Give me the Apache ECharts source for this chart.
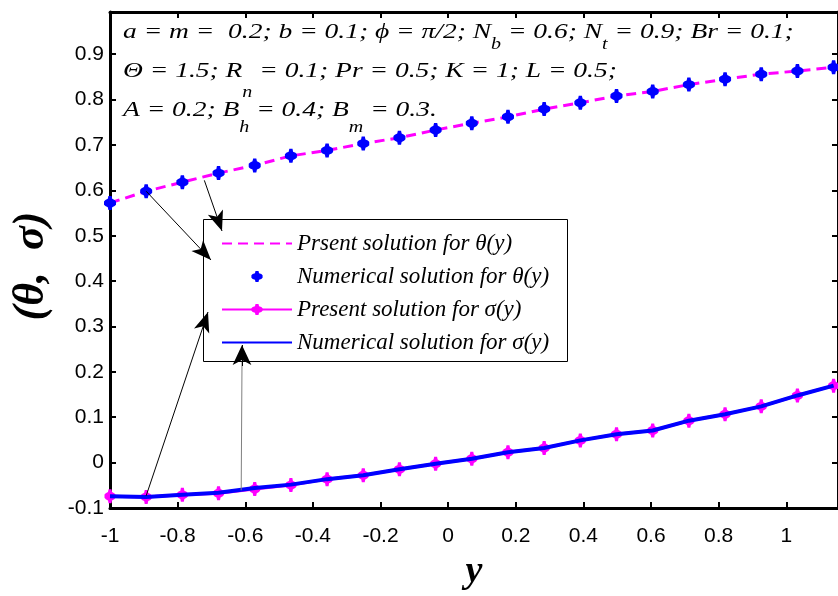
<!DOCTYPE html>
<html>
<head>
<meta charset="utf-8">
<script src="https://cdn.jsdelivr.net/npm/echarts@6/dist/echarts.min.js"></script>
<style>
html,body{margin:0;padding:0;background:#fff;}
#chart{width:838px;height:596px;}
</style>
</head>
<body>
<div id="chart"></div>
<script>
// ---- data ----
var xValues = [-1, -0.893, -0.786, -0.679, -0.572, -0.465, -0.358, -0.251, -0.144, -0.037, 0.07, 0.177, 0.284, 0.391, 0.498, 0.605, 0.712, 0.819, 0.926, 1.033, 1.14];
var thetaPresent = [0.572, 0.598, 0.618, 0.638, 0.655, 0.676, 0.688, 0.703, 0.716, 0.733, 0.748, 0.762, 0.779, 0.793, 0.808, 0.818, 0.833, 0.845, 0.856, 0.863, 0.871];
var thetaNumerical = [0.572, 0.598, 0.618, 0.638, 0.655, 0.676, 0.688, 0.703, 0.716, 0.733, 0.748, 0.762, 0.779, 0.793, 0.808, 0.818, 0.833, 0.845, 0.856, 0.863, 0.871];
var sigmaPresent = [-0.074, -0.0755, -0.071, -0.0675, -0.058, -0.0495, -0.0364, -0.0278, -0.0148, -0.0024, 0.0085, 0.023, 0.0323, 0.049, 0.0627, 0.0707, 0.0924, 0.1067, 0.124, 0.148, 0.1696];
var sigmaNumerical = [-0.074, -0.0755, -0.071, -0.0665, -0.056, -0.0485, -0.0364, -0.0278, -0.0148, -0.0024, 0.0085, 0.023, 0.0323, 0.049, 0.0627, 0.0707, 0.0924, 0.1067, 0.124, 0.148, 0.1696];
var seriesNames = ['Prsent solution for \u03B8(y)', 'Numerical solution for \u03B8(y)', 'Present solution for \u03C3(y)', 'Numerical solution for \u03C3(y)'];
var xTicks = {min: -1, max: 1.153, interval: 0.2};
var yTicks = {min: -0.1, max: 0.993, interval: 0.1};

function pairs(xs, ys) { return xs.map(function (x, i) { return [x, ys[i]]; }); }

var markerPath = 'path://M-1.6,-7 L1.6,-7 L2.2,-4.2 L4.6,-3 L6,-1.6 L6,1.6 L4.6,3 L2.2,4.2 L1.6,7 L-1.6,7 L-2.2,4.2 L-4.6,3 L-6,1.6 L-6,-1.6 L-4.6,-3 L-2.2,-4.2 Z';
var serif = '"Liberation Serif", "Times New Roman", serif';
var sans = '"Liberation Sans", Arial, sans-serif';

var axisCommon = {
  axisLine: {show: true, onZero: false, lineStyle: {color: '#000', width: 3}},
  axisTick: {show: true, inside: true, length: 6, lineStyle: {color: '#000', width: 2}},
  splitLine: {show: false}
};

var arrowLine = {color: '#000', width: 1, type: 'solid'};
var annoFont = {fontFamily: serif, fontStyle: 'italic', fontSize: 22, fill: '#000'};
function subStyle(pad) { return {fontFamily: serif, fontStyle: 'italic', fontSize: 16, padding: [pad, 0, 0, 0]}; }

var option = {
  animation: false,
  backgroundColor: '#fff',
  grid: {left: 110, top: 12, right: -4, bottom: 80, containLabel: false},
  xAxis: [
    Object.assign({type: 'value', position: 'bottom', min: xTicks.min, max: xTicks.max, interval: xTicks.interval,
      axisLabel: {show: true, color: '#000', fontFamily: sans, fontSize: 21, margin: 18, showMaxLabel: false},
      name: 'y', nameLocation: 'middle', nameGap: 45,
      nameTextStyle: {fontFamily: serif, fontStyle: 'italic', fontWeight: 'bold', fontSize: 38, color: '#000'}}, axisCommon),
    Object.assign({type: 'value', position: 'top', min: xTicks.min, max: xTicks.max, interval: xTicks.interval,
      axisLabel: {show: false}}, axisCommon)
  ],
  yAxis: [
    Object.assign({type: 'value', position: 'left', min: yTicks.min, max: yTicks.max, interval: yTicks.interval,
      axisLabel: {show: true, color: '#000', fontFamily: sans, fontSize: 21, margin: 6, showMaxLabel: false},
      name: '(\u03B8,  \u03C3)', nameLocation: 'middle', nameGap: 56, nameRotate: 90,
      nameTextStyle: {fontFamily: serif, fontStyle: 'italic', fontWeight: 'bold', fontSize: 44, color: '#000', padding: [0, 12, 0, 0]}}, axisCommon),
    Object.assign({type: 'value', position: 'right', min: yTicks.min, max: yTicks.max, interval: yTicks.interval,
      axisLabel: {show: false}}, axisCommon)
  ],
  legend: {
    show: true, orient: 'vertical', left: 216, top: 227,
    itemWidth: 70, itemHeight: 14, itemGap: 10,
    data: [
      {name: seriesNames[0], itemStyle: {opacity: 0}},
      {name: seriesNames[1]},
      {name: seriesNames[2]},
      {name: seriesNames[3], itemStyle: {opacity: 0}}
    ],
    textStyle: {fontFamily: serif, fontStyle: 'italic', fontSize: 23, color: '#000', lineHeight: 23},
    selectedMode: false
  },
  graphic: [
    {type: 'rect', z: 1, shape: {x: 203.5, y: 219.5, width: 364, height: 142},
      style: {fill: '#fff', stroke: '#000', lineWidth: 1}},
    {type: 'text', z: 10, x: 123, y: 32, scaleX: 1.25, style: Object.assign({x: 0, y: 0, textVerticalAlign: 'middle', textAlign: 'left',
      text: 'a = m =  0.2; b = 0.1; \u03D5 = \u03C0/2; N{s1|b} = 0.6; N{s1|t} = 0.9; Br = 0.1;',
      rich: {s1: subStyle(26)}}, annoFont)},
    {type: 'text', z: 10, x: 123, y: 71, scaleX: 1.25, style: Object.assign({x: 0, y: 0, textVerticalAlign: 'middle', textAlign: 'left',
      text: '\u0398 = 1.5; R{s2|n} = 0.1; Pr = 0.5; K = 1; L = 0.5;',
      rich: {s2: subStyle(44)}}, annoFont)},
    {type: 'text', z: 10, x: 123, y: 110, scaleX: 1.25, style: Object.assign({x: 0, y: 0, textVerticalAlign: 'middle', textAlign: 'left',
      text: 'A = 0.2; B{s3|h} = 0.4; B{s3|m} = 0.3.',
      rich: {s3: subStyle(36)}}, annoFont)}
  ],
  series: [
    {
      name: seriesNames[0], type: 'line', xAxisIndex: 0, yAxisIndex: 0, z: 3,
      data: pairs(xValues, thetaPresent),
      symbol: 'none', lineStyle: {color: '#ff00ff', width: 3, type: [10, 6]}, itemStyle: {color: '#ff00ff'},
      markLine: {
        silent: true, symbol: ['none', 'arrow'], label: {show: false}, lineStyle: arrowLine, z: 6,
        data: [
          [{coord: [-0.893, 0.598], symbol: 'none'}, {x: 211, y: 260, symbol: 'arrow', symbolSize: [12, 20]}],
          [{coord: [-0.721, 0.622], symbol: 'none'}, {x: 222, y: 231, symbol: 'arrow', symbolSize: [12, 20]}]
        ]
      }
    },
    {
      name: seriesNames[1], type: 'line', xAxisIndex: 0, yAxisIndex: 0, z: 4,
      data: pairs(xValues, thetaNumerical),
      symbol: markerPath, symbolSize: [12, 14], showAllSymbol: true,
      lineStyle: {width: 0, color: '#0000ff', opacity: 0}, itemStyle: {color: '#0000ff'}
    },
    {
      name: seriesNames[2], type: 'line', xAxisIndex: 0, yAxisIndex: 0, z: 3,
      data: pairs(xValues, sigmaPresent),
      symbol: markerPath, symbolSize: [11, 14], showAllSymbol: true,
      lineStyle: {color: '#ff00ff', width: 3}, itemStyle: {color: '#ff00ff'},
      markLine: {
        silent: true, symbol: ['none', 'arrow'], label: {show: false}, lineStyle: arrowLine, z: 6,
        data: [
          [{coord: [-0.893, -0.073], symbol: 'none'}, {x: 208, y: 312, symbol: 'arrow', symbolSize: [12, 20]}],
          [{coord: [-0.612, -0.061], symbol: 'none', lineStyle: {color: '#808080'}}, {x: 242, y: 362, symbol: 'none', lineStyle: {color: '#808080'}}],
          [{x: 242, y: 366, symbol: 'none'}, {x: 242, y: 345, symbol: 'arrow', symbolSize: [14, 20]}]
        ]
      }
    },
    {
      name: seriesNames[3], type: 'line', xAxisIndex: 0, yAxisIndex: 0, z: 4,
      data: pairs(xValues, sigmaNumerical),
      symbol: 'none', lineStyle: {color: '#0000ff', width: 4}, itemStyle: {color: '#0000ff'}
    }
  ]
};

var chart = echarts.init(document.getElementById('chart'), null, {renderer: 'canvas'});
chart.setOption(option);
</script>
</body>
</html>
